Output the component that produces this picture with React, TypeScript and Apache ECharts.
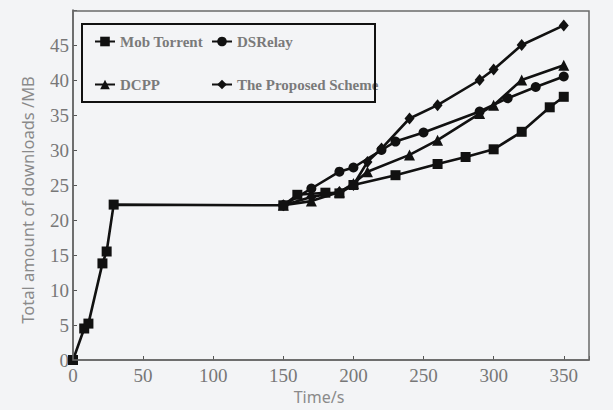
import React, { useEffect, useRef } from "react";
import * as echarts from "echarts";

const seriesNames = ["Mob Torrent", "DSRelay", "DCPP", "The Proposed Scheme"];

const mobTime = [0, 8, 11, 21, 24, 29, 150, 160, 180, 190, 200, 230, 260, 280, 300, 320, 340, 350];
const mobVal = [0, 4.5, 5.2, 13.8, 15.5, 22.2, 22.1, 23.6, 23.9, 23.8, 25.0, 26.4, 28.0, 29.0, 30.1, 32.6, 36.1, 37.6];

const dsTime = [150, 170, 190, 200, 220, 230, 250, 290, 310, 330, 350];
const dsVal = [22.1, 24.5, 26.9, 27.5, 30.0, 31.2, 32.5, 35.5, 37.4, 39.0, 40.5];

const dcppTime = [150, 170, 190, 200, 210, 240, 260, 290, 300, 320, 350];
const dcppVal = [22.1, 22.7, 24.0, 25.2, 26.9, 29.3, 31.4, 35.2, 36.4, 40.0, 42.1];

const propTime = [150, 170, 190, 200, 210, 220, 240, 260, 290, 300, 320, 350];
const propVal = [22.1, 23.3, 24.0, 25.0, 28.3, 30.2, 34.5, 36.4, 40.0, 41.5, 45.0, 47.8];

const xTicks = [0, 50, 100, 150, 200, 250, 300, 350];
const yTicks = [0, 5, 10, 15, 20, 25, 30, 35, 40, 45];

const pair = (t: number[], v: number[]) => t.map((x, i) => [x, v[i]]);

export default function App() {
  const ref = useRef<HTMLDivElement>(null);
  useEffect(() => {
    if (!ref.current) return;
    const chart = echarts.init(ref.current, null, { renderer: "svg" });
    const lineStyle = { color: "#111", width: 2.6 };
    const common = {
      type: "line",
      lineStyle,
      itemStyle: { color: "#111" },
      symbolKeepAspect: true,
    };
    const legendText = {
      color: "#7a7a7a",
      fontFamily: "Liberation Serif",
      fontWeight: "bold",
      fontSize: 15,
    };
    chart.setOption({
      animation: false,
      backgroundColor: "#f3f4f6",
      grid: {
        left: 73,
        right: 24,
        top: 10,
        bottom: 50,
      },
      xAxis: {
        type: "value",
        min: 0,
        max: 368,
        interval: 50,
        splitLine: { show: false },
        axisLine: { lineStyle: { color: "#555", width: 1.5 } },
        axisTick: { inside: true, length: 4, lineStyle: { color: "#555" } },
        axisLabel: {
          color: "#777",
          fontFamily: "Liberation Serif",
          fontSize: 19,
          margin: 6,
          formatter: (v: number) => (xTicks.includes(v) ? String(v) : ""),
        },
      },
      yAxis: {
        type: "value",
        min: 0,
        max: 50,
        interval: 5,
        splitLine: { show: false },
        axisLine: { lineStyle: { color: "#555", width: 1.5 } },
        axisTick: { inside: true, length: 4, lineStyle: { color: "#555" } },
        axisLabel: {
          color: "#777",
          fontFamily: "Liberation Serif",
          fontSize: 19,
          margin: 4,
          formatter: (v: number) => (yTicks.includes(v) ? String(v) : ""),
        },
      },
      legend: [
        {
          data: [seriesNames[0], seriesNames[2]],
          orient: "vertical",
          left: 89,
          top: 29,
          itemGap: 28,
          itemWidth: 20,
          itemHeight: 12,
          textStyle: legendText,
        },
        {
          data: [seriesNames[1], seriesNames[3]],
          orient: "vertical",
          left: 206,
          top: 29,
          itemGap: 28,
          itemWidth: 20,
          itemHeight: 12,
          textStyle: legendText,
        },
      ],
      graphic: [
        {
          type: "rect",
          shape: { x: 73, y: 11, width: 516, height: 349 },
          style: { fill: "none", stroke: "#6a6a6a", lineWidth: 1.5 },
          z: 10,
        },
        {
          type: "rect",
          shape: { x: 82, y: 24, width: 293, height: 78 },
          style: { fill: "none", stroke: "#111", lineWidth: 2 },
          z: 10,
        },
        {
          type: "text",
          x: 27,
          y: 200,
          rotation: Math.PI / 2,
          style: {
            text: "Total amount of downloads /MB",
            fill: "#8a8a8a",
            font: "16.5px 'Noto Sans'",
            align: "center",
            verticalAlign: "middle",
          },
        },
        {
          type: "text",
          x: 319,
          y: 397,
          style: {
            text: "Time/s",
            fill: "#8a8a8a",
            font: "16px 'Noto Sans'",
            align: "center",
            verticalAlign: "middle",
          },
        },
      ],
      series: [
        { ...common, name: seriesNames[1], symbol: "circle", symbolSize: 10, data: pair(dsTime, dsVal) },
        { ...common, name: seriesNames[2], symbol: "triangle", symbolSize: 11, data: pair(dcppTime, dcppVal) },
        { ...common, name: seriesNames[3], symbol: "diamond", symbolSize: [10, 12], data: pair(propTime, propVal) },
        { ...common, name: seriesNames[0], symbol: "rect", symbolSize: 10, data: pair(mobTime, mobVal) },
      ],
    });
    return () => chart.dispose();
  }, []);
  return (
    <div
      ref={ref}
      style={{ position: "absolute", left: 0, top: 0, width: 613, height: 410 }}
    />
  );
}
